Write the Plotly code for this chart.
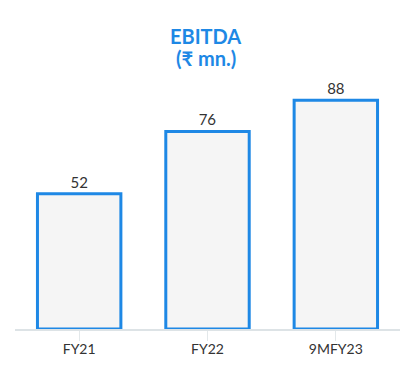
import plotly.graph_objects as go

categories = ["FY21", "FY22", "9MFY23"]
values = [52, 76, 88]
title_lines = ["EBITDA", "(₹ mn.)"]

fig = go.Figure(go.Bar(
    x=categories, y=values,
    text=[str(v) for v in values], textposition="outside",
    textfont=dict(family="Lato", size=15, color="#333333"),
    marker=dict(color="#f5f5f5", line=dict(color="#1e88e5", width=3)),
    width=0.65, cliponaxis=False,
))

# page body has 8px margin; margins compensate
fig.update_layout(
    width=420, height=377,
    margin=dict(l=7, r=28, t=61, b=56),
    paper_bgcolor="white", plot_bgcolor="white",
    showlegend=False,
    xaxis=dict(showline=True, linecolor="#dde3e6", linewidth=1.5,
               ticks="outside", ticklen=10, tickcolor="#e3e8ea",
               ticklabelstandoff=-4,
               tickfont=dict(family="Lato", size=14, color="#333333"),
               showgrid=False),
    yaxis=dict(range=[0, 100], visible=False, showgrid=False),
    annotations=[
        dict(text="<b>%s</b>" % title_lines[0], x=0.495, xref="paper", y=1.127, yref="paper",
             xanchor="center", yanchor="middle", showarrow=False,
             font=dict(family="Lato", size=20, color="#1e88e5")),
        dict(text="<b>%s</b>" % title_lines[1], x=0.495, xref="paper", y=1.043, yref="paper",
             xanchor="center", yanchor="middle", showarrow=False,
             font=dict(family="Lato", size=20, color="#1e88e5")),
    ],
)

fig.write_html("out.html")
